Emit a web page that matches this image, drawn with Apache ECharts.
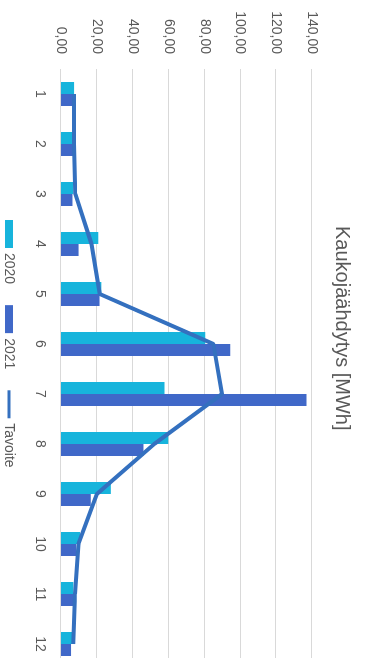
<!DOCTYPE html>
<html>
<head>
<meta charset="utf-8">
<script src="https://cdn.jsdelivr.net/npm/echarts@6/dist/echarts.min.js"></script>
<style>
  html, body { margin: 0; padding: 0; width: 365px; height: 658px; overflow: hidden; background: #fff; }
  /* chart is laid out landscape and turned a quarter turn clockwise */
  #chart {
    position: absolute; left: 0; top: 0;
    width: 690px; height: 365px;
    transform-origin: 0 0;
    transform: translate(365px, 0) rotate(90deg);
  }
</style>
</head>
<body>
<div id="chart"></div>
<script>
const months = ['1', '2', '3', '4', '5', '6', '7', '8', '9', '10', '11', '12'];
const values2020 = [7.3, 6.5, 6.8, 20.8, 22.5, 80.4, 57.7, 59.8, 27.8, 10.6, 6.9, 6.9];
const values2021 = [6.2, 7.0, 6.4, 9.8, 21.5, 94.4, 136.9, 46.0, 16.6, 8.4, 6.8, 5.6];
const target = [7.2, 7.3, 8.0, 17.0, 21.6, 85.0, 89.8, 52.0, 20.0, 9.7, 7.8, 6.9];

const FONT = 'Liberation Sans, Arial, sans-serif';
const TEXT = '#595959';
const C2020 = '#17b4dc';
const C2021 = '#4068c8';
const CTARGET = '#3470bf';

const chart = echarts.init(document.getElementById('chart'), null, { renderer: 'canvas' });
chart.setOption({
  animation: false,
  backgroundColor: '#ffffff',
  title: {
    text: 'Kaukojäähdytys [MWh]',
    left: 221, top: 8,
    textStyle: { fontFamily: FONT, fontSize: 20, fontWeight: 'normal', color: TEXT }
  },
  legend: {
    left: 215, top: 344,
    itemWidth: 28, itemHeight: 8, itemGap: 21,
    textStyle: { fontFamily: FONT, fontSize: 14, color: TEXT },
    data: [
      { name: '2020', icon: 'rect' },
      { name: '2021', icon: 'rect' },
      { name: 'Tavoite', icon: 'path://M0,0 L28,0 L28,3 L0,3 Z' }
    ]
  },
  grid: { left: 69, width: 600, top: 53, height: 251, containLabel: false },
  xAxis: {
    type: 'category',
    data: months,
    axisLine: { show: false },
    axisTick: { show: false },
    axisLabel: { fontFamily: FONT, fontSize: 14, color: TEXT, margin: 14 }
  },
  yAxis: {
    type: 'value',
    min: 0, max: 140, interval: 20,
    axisLine: { show: false },
    axisTick: { show: false },
    splitLine: { lineStyle: { color: '#d9d9d9', width: 1 } },
    axisLabel: {
      fontFamily: FONT, fontSize: 14, color: TEXT, margin: 15,
      formatter: v => v.toFixed(2).replace('.', ',')
    }
  },
  series: [
    {
      name: '2020', type: 'bar', data: values2020,
      barWidth: 12, barGap: '0%',
      itemStyle: { color: C2020 }
    },
    {
      name: '2021', type: 'bar', data: values2021,
      barWidth: 12, barGap: '0%',
      itemStyle: { color: C2021 }
    },
    {
      name: 'Tavoite', type: 'line', data: target,
      symbol: 'none', smooth: false,
      lineStyle: { color: CTARGET, width: 4 },
      itemStyle: { color: CTARGET }
    }
  ]
});
</script>
</body>
</html>
